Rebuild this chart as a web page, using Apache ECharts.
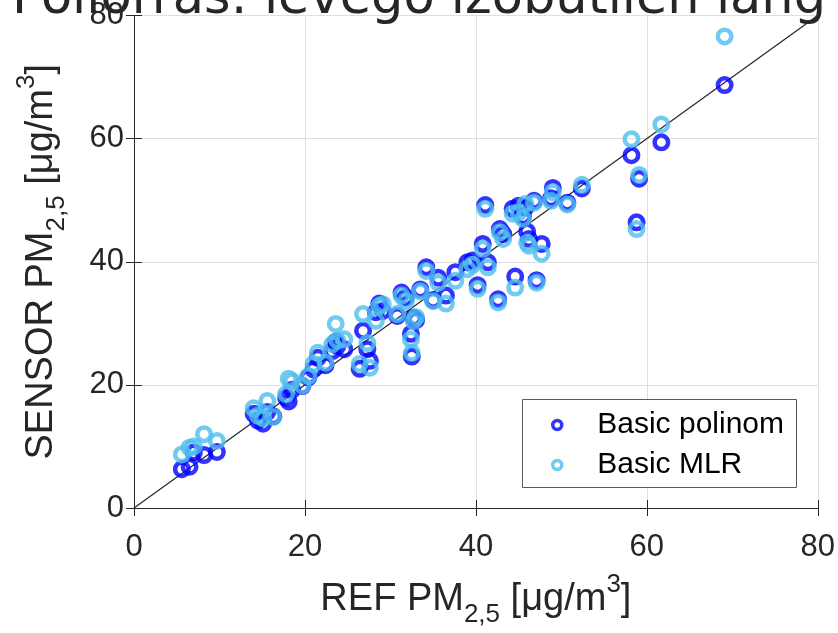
<!DOCTYPE html>
<html><head><meta charset="utf-8">
<script src="https://cdn.jsdelivr.net/npm/echarts@6/dist/echarts.min.js"></script>
<style>html,body{margin:0;padding:0;background:#fff}#c{width:838px;height:633px}</style>
</head><body><div id="c"></div>
<script>
const titleText = 'Pollorras: levegő izobutilén lang';
const seriesNames = ['Basic polinom', 'Basic MLR'];
const axisTicks = [0, 20, 40, 60, 80];
// reference PM2.5 (x) with the two sensor calibrations (y)
const refPM = [5.6, 6.5, 7.0, 8.2, 9.7, 14.0, 14.5, 15.1, 15.6, 16.3,
  17.8, 18.1, 18.5, 19.7, 20.4, 21.0, 21.5, 22.4, 23.2, 23.6,
  23.8, 24.6, 26.4, 26.8, 27.3, 27.6, 28.3, 28.7, 29.1, 30.8,
  31.3, 31.8, 32.4, 32.5, 32.7, 33.0, 33.5, 34.2, 35.0, 35.6,
  36.5, 37.6, 39.0, 39.6, 40.2, 40.8, 41.1, 41.4, 42.6, 42.8,
  43.2, 44.3, 44.6, 45.0, 45.5, 45.8, 46.0, 46.2, 46.8, 47.1,
  47.7, 48.8, 49.0, 50.7, 52.4, 58.2, 58.8, 59.1, 61.7, 69.1];
const polinomPM = [6.3, 6.7, 9.0, 8.6, 9.1, 15.3, 14.2, 13.7, 15.6, 14.9,
  17.9, 17.3, 19.2, 19.8, 21.2, 22.5, 24.4, 23.2, 25.5, 27.0,
  26.3, 25.8, 22.6, 28.8, 25.8, 23.9, 31.8, 33.2, 32.0, 31.2,
  35.0, 34.2, 28.3, 24.6, 30.9, 30.5, 35.5, 39.1, 33.8, 37.4,
  34.5, 38.3, 39.9, 40.2, 36.2, 42.9, 49.2, 39.9, 33.9, 45.3,
  44.5, 48.6, 37.6, 49.1, 47.4, 48.8, 44.9, 43.7, 49.9, 37.0,
  42.9, 50.3, 52.0, 49.6, 51.9, 57.3, 46.4, 53.5, 59.4, 68.7];
const mlrPM = [8.7, 9.8, 10.0, 12.0, 10.9, 16.2, 15.0, 14.6, 17.4, 14.8,
  18.5, 21.0, 20.6, 19.9, 21.4, 23.4, 25.2, 23.6, 26.6, 29.9,
  27.2, 27.4, 23.4, 31.5, 26.8, 22.8, 30.4, 32.8, 33.1, 31.5,
  34.5, 33.6, 27.4, 25.2, 30.4, 31.0, 35.2, 38.5, 33.6, 36.6,
  33.2, 36.9, 38.8, 39.5, 35.6, 42.1, 48.6, 39.1, 33.4, 44.8,
  43.7, 47.8, 35.8, 48.0, 47.0, 49.4, 43.1, 42.6, 49.6, 36.6,
  41.3, 49.9, 51.3, 49.3, 52.5, 59.9, 45.3, 54.1, 62.3, 76.6];
const identityLine = [[0, 0], [80, 80]];

const polyData = refPM.map((x, i) => [x, polinomPM[i]]);
const mlrData = refPM.map((x, i) => [x, mlrPM[i]]);

const dark = '#262626';
const richName = {
  n: { fontSize: 38, lineHeight: 56, fontFamily: 'Liberation Sans', color: dark },
  sub: { fontSize: 26, lineHeight: 26, verticalAlign: 'bottom', fontFamily: 'Liberation Sans', color: dark },
  sup: { fontSize: 26, lineHeight: 26, verticalAlign: 'top', fontFamily: 'Liberation Sans', color: dark }
};
const axisCommon = {
  type: 'value', min: axisTicks[0], max: axisTicks[axisTicks.length - 1], interval: 20,
  axisLine: { show: true, lineStyle: { color: dark, width: 1 } },
  axisTick: { show: true, inside: true, length: 8, lineStyle: { color: dark } },
  splitLine: { show: true, lineStyle: { color: '#dfdfdf', width: 1 } },
  axisLabel: { fontSize: 31, fontFamily: 'Liberation Sans', color: dark }
};
const chart = echarts.init(document.getElementById('c'), null, { renderer: 'canvas' });
chart.setOption({
  animation: false,
  backgroundColor: '#fff',
  grid: { left: 134, right: 20, top: 15, bottom: 125 },
  xAxis: [
    Object.assign({}, axisCommon, {
      position: 'bottom',
      axisLabel: Object.assign({}, axisCommon.axisLabel, { margin: 24 }),
      name: '{n|REF PM}{sub|2,5}{n| [μg/m}{sup|3}{n|]}',
      nameLocation: 'middle', nameGap: 64,
      nameTextStyle: { rich: richName }
    }),
    Object.assign({}, axisCommon, {
      position: 'top', axisLabel: { show: false }, splitLine: { show: false }
    })
  ],
  yAxis: [
    Object.assign({}, axisCommon, {
      position: 'left',
      axisLabel: Object.assign({}, axisCommon.axisLabel, { margin: 10 }),
      name: '{n|SENSOR PM}{sub|2,5}{n| [μg/m}{sup|3}{n|]}',
      nameLocation: 'middle', nameGap: 64, nameRotate: 90,
      nameTextStyle: { rich: richName }
    }),
    Object.assign({}, axisCommon, {
      position: 'right', axisLabel: { show: false }, splitLine: { show: false }
    })
  ],
  legend: {
    data: seriesNames,
    orient: 'vertical',
    left: 546, top: 405,
    itemWidth: 42, itemHeight: 9,
    itemGap: 10,
    z: 60,
    itemStyle: { color: 'rgba(0,0,0,0)', borderWidth: 3.5 },
    textStyle: { fontSize: 30, fontFamily: 'Liberation Sans', color: '#000', padding: [0, 0, 0, 14] }
  },
  graphic: [
    {
      type: 'rect', z: 50,
      shape: { x: 522.5, y: 399.5, width: 274, height: 88 },
      style: { fill: '#fff', stroke: '#5a5a5a', lineWidth: 1 }
    },
    {
      type: 'text', z: 50,
      style: {
        x: 419, y: 25, text: titleText, textAlign: 'center', textVerticalAlign: 'bottom',
        font: '51px "DejaVu Sans"', fill: dark
      }
    }
  ],
  series: [
    {
      type: 'line', data: identityLine, showSymbol: false, symbol: 'none', silent: true,
      lineStyle: { color: dark, width: 1.2 }, z: 1
    },
    {
      name: seriesNames[0], type: 'scatter', data: polyData, symbol: 'circle', symbolSize: 13.5,
      itemStyle: { color: 'rgba(0,0,0,0)', borderColor: '#0000ff', borderWidth: 4.5 }, z: 3
    },
    {
      name: seriesNames[1], type: 'scatter', data: mlrData, symbol: 'circle', symbolSize: 13.5,
      itemStyle: { color: 'rgba(0,0,0,0)', borderColor: '#4dbeee', borderWidth: 4.5 }, z: 4
    }
  ]
});
</script></body></html>
